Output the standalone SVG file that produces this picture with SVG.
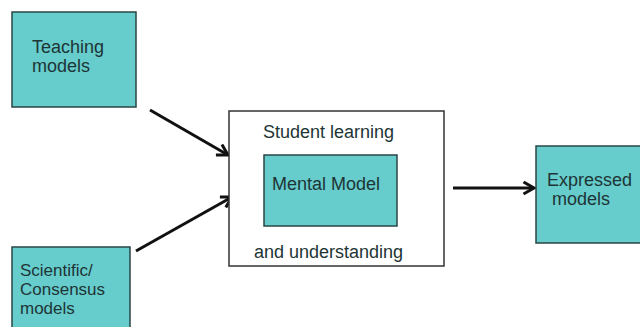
<svg xmlns="http://www.w3.org/2000/svg" width="640" height="327" viewBox="0 0 640 327">
<defs>
<style>
.teal{fill:#66CCCC;stroke:#2a4545;stroke-width:1.5}
.frame{fill:#ffffff;stroke:#333333;stroke-width:1.5}
.t{font-family:"Liberation Sans",Arial,sans-serif;font-size:18px;fill:#1e3535}
.s{font-size:17px}
.c{stroke:#111;stroke-width:3;fill:none;marker-end:url(#ah)}
</style>
<marker id="ah" viewBox="0 0 10 10" refX="8" refY="5" markerWidth="5" markerHeight="5" orient="auto" markerUnits="strokeWidth">
<path d="M1,1 L8,5 L1,9" fill="none" stroke="#111" stroke-width="2"/>
</marker>
</defs>
<rect width="640" height="327" fill="#ffffff"/>
<g id="connectors">
<line class="c" x1="150" y1="110" x2="228" y2="155"/>
<line class="c" x1="136" y1="251" x2="232" y2="197"/>
<line class="c" x1="453" y1="188" x2="534" y2="188"/>
</g>
<g id="teaching">
<rect class="teal" x="12" y="12" width="124" height="95"/>
<text class="t" x="32" y="53">Teaching</text>
<text class="t" x="32" y="72">models</text>
</g>
<g id="scientific">
<rect class="teal" x="12" y="247" width="118" height="90"/>
<text class="t s" x="20" y="276">Scientific/</text>
<text class="t s" x="20" y="295">Consensus</text>
<text class="t s" x="20" y="314">models</text>
</g>
<g id="student">
<rect class="frame" x="229" y="111" width="215" height="155"/>
<text class="t" x="263" y="138">Student learning</text>
<text class="t" x="254" y="258">and understanding</text>
</g>
<g id="mental">
<rect class="teal" x="264" y="155" width="133" height="71"/>
<text class="t" x="272" y="190">Mental Model</text>
</g>
<g id="expressed">
<rect class="teal" x="536" y="146" width="110" height="97"/>
<text class="t" x="547" y="186">Expressed</text>
<text class="t" x="552" y="205">models</text>
</g>
</svg>
